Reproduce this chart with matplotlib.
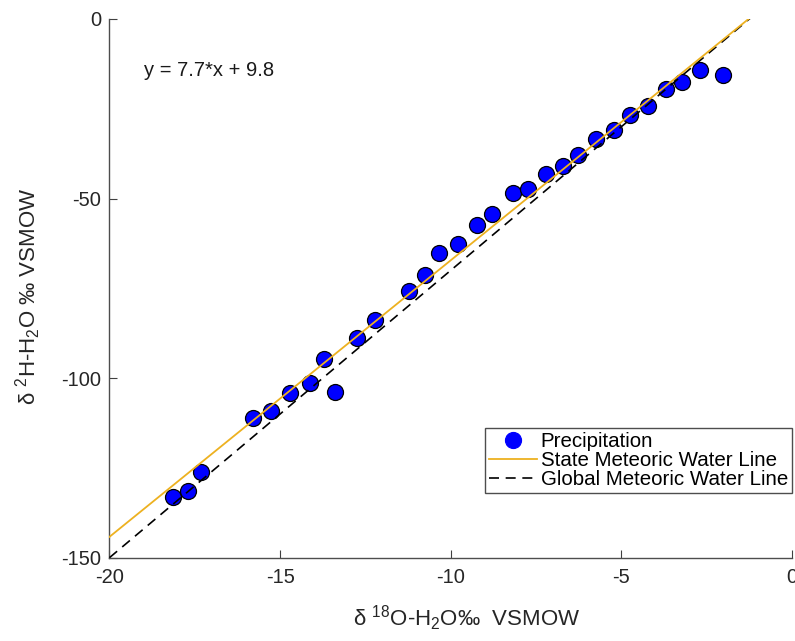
import matplotlib.pyplot as plt
import numpy as np

plt.rcParams['font.family'] = ['Liberation Sans', 'DejaVu Sans']
plt.rcParams['mathtext.fontset'] = 'custom'
plt.rcParams['mathtext.rm'] = 'Liberation Sans'
plt.rcParams['mathtext.it'] = 'Liberation Sans'
plt.rcParams['mathtext.default'] = 'regular'
plt.rcParams['axes.unicode_minus'] = False

# precipitation samples (per mil, VSMOW)
d18o = [-18.14, -17.71, -17.31, -15.79, -15.27, -14.72, -14.12, -13.71, -13.38, -12.76,
        -12.22, -11.22, -10.76, -10.34, -9.79, -9.24, -8.78, -8.18, -7.73, -7.22,
        -6.71, -6.28, -5.73, -5.22, -4.76, -4.21, -3.70, -3.23, -2.70, -2.01]
d2h = [-133.1, -131.4, -126.2, -111.1, -109.1, -104.1, -101.5, -94.6, -103.8, -88.7,
       -83.8, -75.7, -71.2, -65.3, -62.6, -57.3, -54.2, -48.5, -47.3, -43.3,
       -41.0, -38.0, -33.5, -30.9, -26.7, -24.1, -19.6, -17.5, -14.3, -15.7]

# meteoric water lines: slope, intercept
smwl = (7.7, 9.8)
gmwl = (8.0, 10.0)

xticks = [-20, -15, -10, -5, 0]
yticks = [-150, -100, -50, 0]

fig = plt.figure(figsize=(7.95, 6.41), dpi=100)
ax = fig.add_axes([0.1377, 0.130, 0.8585, 0.8404])

ax.plot(d18o, d2h, 'o', ms=11.5, mfc='blue', mec='black', mew=0.9,
        label='Precipitation', zorder=2)

xl = np.array([-20, 0])
ax.plot(xl, smwl[0] * xl + smwl[1], color='#EDB120', lw=1.3,
        label='State Meteoric Water Line', zorder=4)
ax.plot(xl, gmwl[0] * xl + gmwl[1], color='black', lw=1.2, dashes=(6, 4),
        label='Global Meteoric Water Line', zorder=3)

ax.text(-19.0, -14.4, f'y = {smwl[0]}*x + {smwl[1]}', fontsize=14.5,
        va='center', ha='left', color='0.1')

ax.set_xlim(-20, 0)
ax.set_ylim(-150, 0)
ax.set_xticks(xticks)
ax.set_yticks(yticks)
ax.tick_params(direction='in', length=5.5, width=0.8, color='0.25',
               labelsize=14.5, labelcolor='0.15')
ax.tick_params(axis='x', pad=7.5)
ax.tick_params(axis='y', pad=6)

for side in ['top', 'right']:
    ax.spines[side].set_visible(False)
for side in ['left', 'bottom']:
    ax.spines[side].set_color('0.3')
    ax.spines[side].set_linewidth(1.0)

ax.set_xlabel('δ $^{18}$O-H$_{2}$O‰  VSMOW', fontsize=16, color='0.15')
ax.set_ylabel('δ $^{2}$H-H$_{2}$O ‰ VSMOW', fontsize=16, color='0.15')
ax.xaxis.set_label_coords(0.523, -0.086)
ax.yaxis.set_label_coords(-0.097, 0.485)

leg = ax.legend(loc='lower right', bbox_to_anchor=(1.0, 0.12), borderaxespad=0,
                fontsize=14.8, fancybox=False, framealpha=1, edgecolor='0.3',
                handlelength=2.3, handletextpad=0.2, labelspacing=0.0,
                borderpad=0.2)
leg.get_frame().set_linewidth(1.0)
leg.legend_handles[0].set_markeredgecolor('blue')

fig.savefig('out.png', dpi=100)
